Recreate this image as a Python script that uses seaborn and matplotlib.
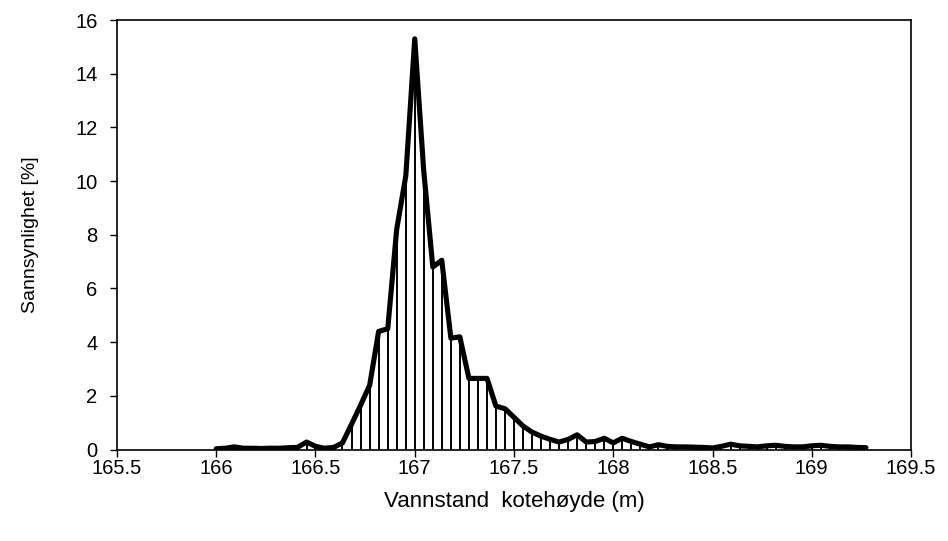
import matplotlib
matplotlib.use("Agg")
import matplotlib.pyplot as plt
import seaborn as sns

# water level (m) and probability (%)
water_level = [
    166.000, 166.045, 166.091, 166.136, 166.182, 166.227, 166.273, 166.318, 166.364, 166.409, 166.455,
    166.500, 166.545, 166.591, 166.636, 166.682, 166.727, 166.773, 166.818, 166.864, 166.909, 166.955,
    167.000, 167.045, 167.091, 167.136, 167.182, 167.227, 167.273, 167.318, 167.364, 167.409, 167.455,
    167.500, 167.545, 167.591, 167.636, 167.682, 167.727, 167.773, 167.818, 167.864, 167.909, 167.955,
    168.000, 168.045, 168.091, 168.136, 168.182, 168.227, 168.273, 168.318, 168.364, 168.409, 168.455,
    168.500, 168.545, 168.591, 168.636, 168.682, 168.727, 168.773, 168.818, 168.864, 168.909, 168.955,
    169.000, 169.045, 169.091, 169.136, 169.182, 169.227, 169.273,
]
probability = [
    0.03, 0.05, 0.10, 0.05, 0.05, 0.04, 0.05, 0.05, 0.07, 0.08, 0.28,
    0.12, 0.05, 0.08, 0.25, 0.95, 1.65, 2.40, 4.40, 4.50, 8.20, 10.2,
    15.3, 10.4, 6.80, 7.05, 4.15, 4.20, 2.65, 2.65, 2.65, 1.62, 1.52,
    1.20, 0.88, 0.65, 0.50, 0.38, 0.28, 0.38, 0.55, 0.28, 0.30, 0.42,
    0.25, 0.42, 0.30, 0.20, 0.10, 0.18, 0.12, 0.10, 0.10, 0.09, 0.08,
    0.06, 0.12, 0.20, 0.14, 0.12, 0.10, 0.14, 0.16, 0.12, 0.10, 0.10,
    0.14, 0.16, 0.12, 0.10, 0.10, 0.08, 0.07,
]

x_ticks = [165.5, 166, 166.5, 167, 167.5, 168, 168.5, 169, 169.5]
x_tick_labels = ["165.5", "166", "166.5", "167", "167.5", "168", "168.5", "169", "169.5"]
y_ticks = [0, 2, 4, 6, 8, 10, 12, 14, 16]

sns.set_theme(style="ticks")
plt.rcParams['font.family'] = ['Liberation Sans', 'DejaVu Sans']

fig = plt.figure(figsize=(9.48, 5.41), dpi=100)
ax = fig.add_axes([0.1234, 0.169, 0.8376, 0.794])

# drop lines under each point
ax.vlines(water_level, 0, probability, color="black", lw=1.4)
sns.lineplot(x=water_level, y=probability, ax=ax, color="black", lw=3.7)

ax.set_xlim(165.5, 169.5)
ax.set_ylim(0, 16)
ax.set_xticks(x_ticks)
ax.set_xticklabels(x_tick_labels)
ax.set_yticks(y_ticks)
ax.tick_params(axis="both", labelsize=14.5, color="black", length=5, width=1, labelcolor="black")
ax.tick_params(axis="x", pad=1.5)
ax.tick_params(axis="y", pad=9)
for sp in ax.spines.values():
    sp.set_visible(True)
    sp.set_color("black")
    sp.set_linewidth(1.2)

ax.set_xlabel("Vannstand  kotehøyde (m)", fontsize=16, labelpad=10, color="black")
ax.set_ylabel("Sannsynlighet [%]", fontsize=14, labelpad=26, color="black")

fig.savefig("out.png", dpi=100)
